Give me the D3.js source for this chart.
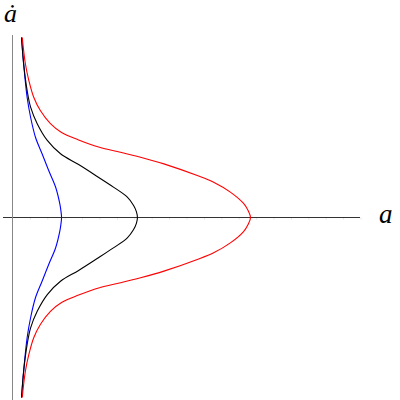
<!DOCTYPE html>
<html>
<head>
<meta charset="utf-8">
<script src="https://cdn.jsdelivr.net/npm/d3@7"></script>
<style>
  html, body { margin: 0; padding: 0; background: #fff; }
  svg { display: block; }
</style>
</head>
<body>
<svg id="chart"></svg>
<script>
// upper half of each orbit (a, adot); the lower half is the mirror image
const blueA = [0.026, 0.032, 0.042, 0.052, 0.066, 0.085, 0.104, 0.124, 0.136, 0.139, 0.141];
const blueAdot = [1.0, 0.854, 0.668, 0.557, 0.446, 0.354, 0.261, 0.168, 0.076, 0.039, 0.0];

const blackA = [0.026, 0.032, 0.042, 0.052, 0.071, 0.100, 0.138, 0.190, 0.241, 0.290, 0.330, 0.348, 0.356, 0.359];
const blackAdot = [1.0, 0.854, 0.706, 0.613, 0.521, 0.428, 0.354, 0.294, 0.231, 0.169, 0.113, 0.067, 0.033, 0.0];

const redA = [0.028, 0.037, 0.047, 0.061, 0.080, 0.109, 0.141, 0.190, 0.250, 0.310, 0.368, 0.435, 0.531, 0.578, 0.626, 0.664, 0.677, 0.684];
const redAdot = [1.0, 0.854, 0.761, 0.668, 0.594, 0.521, 0.472, 0.431, 0.390, 0.363, 0.335, 0.298, 0.233, 0.196, 0.141, 0.078, 0.039, 0.0];

const width = 400;
const height = 400;

const svg = d3.select('#chart')
  .attr('width', width)
  .attr('height', height);

// 0 on the a axis sits on the vertical line, adot = 0 on the horizontal one
const x = d3.scaleLinear().domain([0, 1]).range([12.5, 360.5]);
const y = d3.scaleLinear().domain([-1, 1]).range([397.5, 37.5]);

// horizontal axis with very faint ticks
const xAxis = d3.axisBottom(x)
  .tickValues(d3.range(1, 21).map(i => i * 0.05))
  .tickSize(2)
  .tickFormat('');
const gx = svg.append('g')
  .attr('transform', `translate(0,${y(0)})`)
  .call(xAxis);
gx.select('.domain').remove();
gx.selectAll('.tick line').attr('stroke', '#e4e4e4');

svg.append('line')
  .attr('x1', 3).attr('x2', 360)
  .attr('y1', y(0)).attr('y2', y(0))
  .attr('stroke', '#333')
  .attr('stroke-width', 1);

svg.append('line')
  .attr('x1', x(0)).attr('x2', x(0))
  .attr('y1', 35).attr('y2', 400)
  .attr('stroke', '#888')
  .attr('stroke-width', 1);

// top branch then mirrored bottom branch
function orbit(as, ads) {
  const top = as.map((a, i) => [a, ads[i]]);
  const bottom = top.slice(0, -1).reverse().map(d => [d[0], -d[1]]);
  return top.concat(bottom);
}

const line = d3.line()
  .x(d => x(d[0]))
  .y(d => y(d[1]))
  .curve(d3.curveCatmullRom.alpha(0.5));

const series = [
  { a: blueA, adot: blueAdot, color: '#0000ff' },
  { a: blackA, adot: blackAdot, color: '#000000' },
  { a: redA, adot: redAdot, color: '#ff0000' }
];

svg.selectAll('path.orbit')
  .data(series)
  .enter()
  .append('path')
  .attr('class', 'orbit')
  .attr('d', d => line(orbit(d.a, d.adot)))
  .attr('fill', 'none')
  .attr('stroke', d => d.color)
  .attr('stroke-width', 1.1)
  .attr('stroke-linejoin', 'round');

// axis labels
svg.append('text')
  .attr('x', 4)
  .attr('y', 22)
  .style('font-family', '"Liberation Serif", "DejaVu Serif", serif')
  .style('font-style', 'italic')
  .style('font-size', '26px')
  .text('ȧ');

svg.append('text')
  .attr('x', 379)
  .attr('y', 223)
  .style('font-family', '"Liberation Serif", "DejaVu Serif", serif')
  .style('font-style', 'italic')
  .style('font-size', '27px')
  .text('a');
</script>
</body>
</html>
